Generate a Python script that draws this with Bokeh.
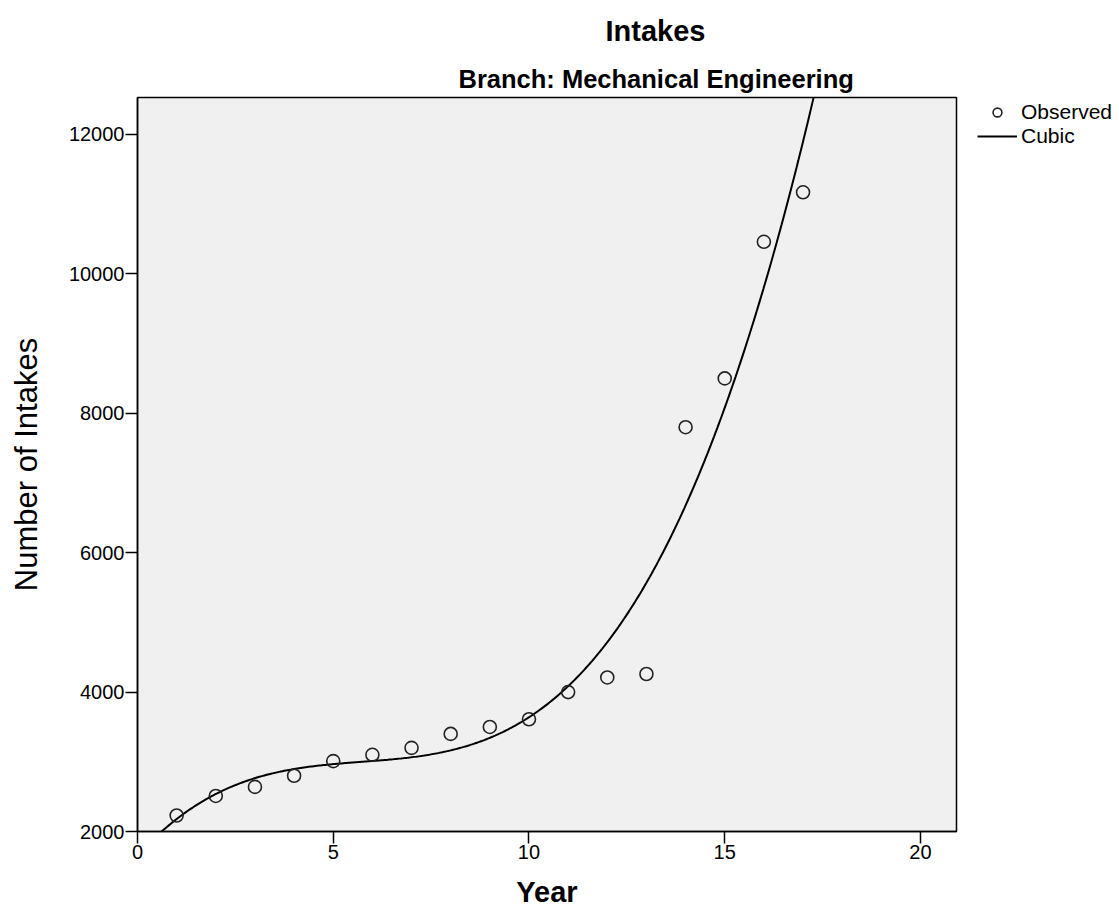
import numpy as np
from bokeh.plotting import figure
from bokeh.models import Range1d, Legend, LegendItem, Title
from bokeh.embed import file_html
from bokeh.resources import INLINE

# Observed intakes per year (Mechanical Engineering)
years = [1, 2, 3, 4, 5, 6, 7, 8, 9, 10, 11, 12, 13, 14, 15, 16, 17]
intakes = [2230, 2510, 2640, 2800, 3010, 3100, 3200, 3400, 3500, 3610,
           4000, 4210, 4260, 7800, 8500, 10460, 11170]

x_ticks = [0, 5, 10, 15, 20]
y_ticks = [2000, 4000, 6000, 8000, 10000, 12000]

FONT = "Liberation Sans"

# Cubic least-squares fit of the observed series
coef = np.polyfit(years, intakes, 3)
fit_x = np.linspace(0, 21, 500)
fit_y = np.polyval(coef, fit_x)

p = figure(frame_width=819, frame_height=734,
           output_backend="svg", toolbar_location=None,
           x_range=Range1d(0, 20.92), y_range=Range1d(2000, 12530),
           min_border_left=137, min_border_right=163,
           min_border_top=97, min_border_bottom=86,
           background_fill_color="#f0f0f0", border_fill_color="white")

p.outline_line_color = "black"
p.outline_line_width = 1.5
p.grid.visible = False

# Titles (closest to the frame added first)
p.add_layout(Title(text="Branch: Mechanical Engineering", align="left",
                   offset=321, text_font=FONT, text_font_style="bold",
                   text_font_size="25.5px", text_color="black", standoff=10), "above")
p.add_layout(Title(text="Intakes", align="left", offset=468,
                   text_font=FONT, text_font_style="bold",
                   text_font_size="29px", text_color="black", standoff=21), "above")

for ax in (p.xaxis, p.yaxis):
    ax.axis_line_color = "black"
    ax.axis_line_width = 1.5
    ax.major_tick_line_color = "black"
    ax.major_tick_line_width = 1.5
    ax.major_tick_out = 12
    ax.major_tick_in = 0
    ax.minor_tick_line_color = None
    ax.major_label_text_font = FONT
    ax.major_label_text_font_size = "20px"
    ax.major_label_text_color = "black"
    ax.major_label_standoff = 1
    ax.axis_label_text_font = FONT
    ax.axis_label_text_color = "black"

p.xaxis.ticker = x_ticks
p.yaxis.ticker = y_ticks
p.xaxis.axis_label = "Year"
p.xaxis.axis_label_text_font_style = "bold"
p.xaxis.axis_label_text_font_size = "29px"
p.xaxis.axis_label_standoff = 14
p.yaxis.axis_label = "Number of Intakes"
p.yaxis.axis_label_text_font_style = "normal"
p.yaxis.axis_label_text_font_size = "31px"
p.yaxis.axis_label_standoff = 22

r_fit = p.line(fit_x, fit_y, line_color="black", line_width=2)
r_obs = p.scatter(years, intakes, marker="circle", size=13,
                  fill_color=None, line_color="#222222", line_width=1.6)

legend = Legend(items=[LegendItem(label="Observed", renderers=[r_obs]),
                       LegendItem(label="Cubic", renderers=[r_fit])],
                location=(21, 683), orientation="vertical",
                label_text_font=FONT, label_text_font_size="21px",
                label_text_color="black", glyph_width=40, glyph_height=22,
                label_height=22, label_standoff=4, spacing=0, padding=4,
                margin=0, border_line_color=None, background_fill_alpha=0)
p.add_layout(legend, "right")

open("out.html", "w").write(file_html(p, INLINE))
